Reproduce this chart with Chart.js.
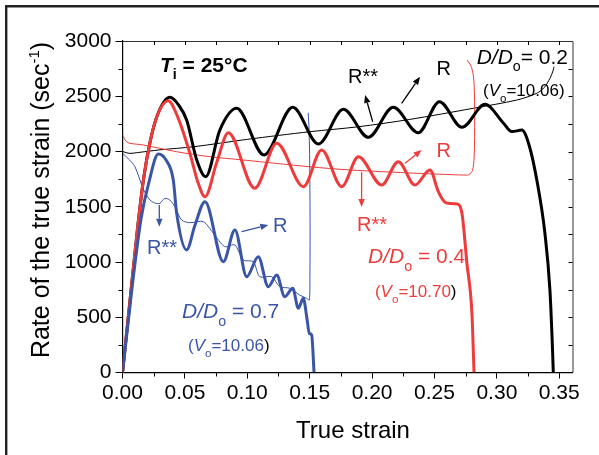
<!DOCTYPE html>
<html>
<head>
<meta charset="utf-8">
<script src="https://cdn.jsdelivr.net/npm/chart.js@4.4.1/dist/chart.umd.min.js"></script>
<style>
html,body{margin:0;padding:0;background:#fff;}
canvas{display:block;}
</style>
</head>
<body>
<canvas id="c" width="599" height="455"></canvas>
<script>
// ---------- DATA ----------
const xTickValues = [0, 0.05, 0.10, 0.15, 0.20, 0.25, 0.30, 0.35];
const yTickValues = [0, 500, 1000, 1500, 2000, 2500, 3000];

// D/Do = 0.2 (black), R : thick
const strainBlackR = [0, 0.006, 0.012, 0.017, 0.022, 0.028, 0.038, 0.045, 0.0514, 0.0595, 0.0667, 0.078, 0.0915, 0.1134, 0.1364, 0.157, 0.177, 0.197, 0.217, 0.237, 0.254, 0.272, 0.2905, 0.305, 0.312, 0.320, 0.326, 0.332, 0.3385, 0.3425, 0.3447, 0.3452];
const rateBlackR   = [0, 650, 1300, 1760, 2080, 2330, 2490, 2420, 2285, 1923, 1772, 2194, 2391, 1968, 2400, 2068, 2382, 2128, 2400, 2170, 2451, 2219, 2427, 2260, 2180, 2194, 2050, 1742, 1260, 747, 174, 0];
// D/Do = 0.2 (black), R** : thin
const strainBlackRss = [0, 0.003, 0.006, 0.012, 0.030, 0.057, 0.100, 0.150, 0.189, 0.230, 0.281, 0.316, 0.332, 0.338, 0.3425, 0.345, 0.3458];
const rateBlackRss   = [2000, 1990, 1983, 1990, 2015, 2043, 2110, 2179, 2224, 2290, 2391, 2466, 2527, 2580, 2662, 2730, 2767];

// D/Do = 0.4 (red), R : thick
const strainRedR = [0, 0.006, 0.012, 0.017, 0.022, 0.028, 0.0367, 0.044, 0.054, 0.0607, 0.0661, 0.0755, 0.0848, 0.106, 0.1236, 0.145, 0.1596, 0.1757, 0.189, 0.2077, 0.221, 0.2344, 0.2464, 0.253, 0.258, 0.261, 0.268, 0.272, 0.276, 0.280, 0.2817];
const rateRedR   = [0, 650, 1300, 1760, 2080, 2330, 2460, 2320, 1984, 1712, 1591, 1900, 2170, 1667, 2074, 1682, 2014, 1682, 1953, 1697, 1908, 1697, 1833, 1640, 1545, 1531, 1525, 1441, 988, 536, 0];
// D/Do = 0.4 (red), R** : thin
const strainRedRss = [0, 0.003, 0.006, 0.0167, 0.0434, 0.070, 0.097, 0.150, 0.182, 0.236, 0.265, 0.2735, 0.2775, 0.2805, 0.2818, 0.2822, 0.2818, 0.2805, 0.2785, 0.276];
const rateRedRss   = [2150, 2090, 2074, 2059, 1998, 1953, 1923, 1862, 1833, 1803, 1790, 1787, 1790, 1830, 1950, 2300, 2600, 2730, 2790, 2828];

// D/Do = 0.7 (blue), R : thick
const strainBlueR = [0, 0.008, 0.015, 0.0207, 0.0287, 0.035, 0.0407, 0.0434, 0.0514, 0.058, 0.0661, 0.0808, 0.0901, 0.0995, 0.1088, 0.1168, 0.1236, 0.130, 0.1364, 0.1409, 0.1449, 0.1476, 0.1497, 0.1516, 0.1535];
const rateBlueR   = [0, 800, 1400, 1700, 1977, 1920, 1742, 1441, 1109, 1330, 1546, 1003, 1290, 867, 1048, 777, 882, 686, 762, 581, 672, 505, 355, 339, 0];
// D/Do = 0.7 (blue), R** : thin
const strainBlueRss = [0, 0.005, 0.010, 0.0167, 0.022, 0.027, 0.030, 0.034, 0.038, 0.042, 0.0474, 0.054, 0.0647, 0.0728, 0.082, 0.090, 0.0968, 0.1048, 0.110, 0.1196, 0.126, 0.134, 0.142, 0.1476, 0.1497, 0.1502, 0.1503, 0.1500, 0.1495, 0.1488];
const rateBlueRss   = [1985, 1930, 1862, 1660, 1561, 1530, 1531, 1576, 1560, 1500, 1380, 1356, 1365, 1260, 1139, 1154, 1018, 1003, 867, 867, 777, 762, 701, 671, 656, 900, 1400, 1900, 2200, 2350];

// ---------- STYLE ----------
const FONT = "'Liberation Sans', Arial, Helvetica, sans-serif";
const BLACK = '#000000';
const RED = '#ee3b3b';
const BLUE = '#3a55a5';

function pts(xs, ys) { return xs.map((x, i) => ({ x: x, y: ys[i] })); }

function thick(xs, ys, color) {
  return { data: pts(xs, ys), borderColor: color, borderWidth: 3, pointRadius: 0, fill: false, cubicInterpolationMode: 'monotone', order: 1 };
}
function thin(xs, ys, color) {
  return { data: pts(xs, ys), borderColor: color, borderWidth: 1, pointRadius: 0, fill: false, tension: 0.3, order: 2 };
}

// annotations (data coordinates)
const labels = [
  { x: 0.0300, y: 2722, size: 21, parts: [{ t: 'T', i: 1, b: 1, c: BLACK }, { t: 'i', sub: 1, b: 1, c: BLACK }, { t: ' = 25°C', b: 1, c: BLACK }] },
  { x: 0.1807, y: 2623, size: 20, parts: [{ t: 'R**', c: BLACK }] },
  { x: 0.2516, y: 2692, size: 20, parts: [{ t: 'R', c: BLACK }] },
  { x: 0.2838, y: 2796, size: 21, parts: [{ t: 'D/D', i: 1, c: BLACK }, { t: 'o', sub: 1, c: BLACK }, { t: '= 0.2', c: BLACK }] },
  { x: 0.2889, y: 2502, size: 17, parts: [{ t: '(', c: BLACK }, { t: 'V', i: 1, c: BLACK }, { t: 'o', sub: 1, c: BLACK }, { t: '=10.06)', c: BLACK }] },
  { x: 0.2516, y: 1950, size: 20, parts: [{ t: 'R', c: RED }] },
  { x: 0.1879, y: 1280, size: 20, parts: [{ t: 'R**', c: RED }] },
  { x: 0.1967, y: 990, size: 21, parts: [{ t: 'D/D', i: 1, c: RED }, { t: 'o', sub: 1, c: RED }, { t: ' = 0.4', c: RED }] },
  { x: 0.2023, y: 683, size: 17, parts: [{ t: '(', c: RED }, { t: 'V', i: 1, c: RED }, { t: 'o', sub: 1, c: RED }, { t: '=10.70', c: RED }, { t: ')', c: BLACK }] },
  { x: 0.1206, y: 1271, size: 20, parts: [{ t: 'R', c: BLUE }] },
  { x: 0.0196, y: 1072, size: 20, parts: [{ t: 'R**', c: BLUE }] },
  { x: 0.0477, y: 493, size: 21, parts: [{ t: 'D/D', i: 1, c: BLUE }, { t: 'o', sub: 1, c: BLUE }, { t: ' = 0.7', c: BLUE }] },
  { x: 0.0525, y: 195, size: 17, parts: [{ t: '(', c: BLUE }, { t: 'V', i: 1, c: BLUE }, { t: 'o', sub: 1, c: BLUE }, { t: '=10.06', c: BLUE }, { t: ')', c: BLACK }] }
];
const arrows = [
  { x1: 0.2005, y1: 2269, x2: 0.1944, y2: 2511, c: BLACK },
  { x1: 0.2237, y1: 2436, x2: 0.2384, y2: 2677, c: BLACK },
  { x1: 0.2264, y1: 1893, x2: 0.2397, y2: 2014, c: RED },
  { x1: 0.1916, y1: 1814, x2: 0.1916, y2: 1498, c: RED },
  { x1: 0.0955, y1: 1274, x2: 0.1169, y2: 1335, c: BLUE },
  { x1: 0.0295, y1: 1516, x2: 0.0295, y2: 1320, c: BLUE }
];

function drawRich(ctx, x, y, parts, size) {
  let cx = x;
  ctx.textAlign = 'left';
  ctx.textBaseline = 'alphabetic';
  for (const p of parts) {
    const small = p.sub || p.sup;
    const s = small ? size * 0.68 : size;
    ctx.font = (p.i ? 'italic ' : '') + (p.b ? 'bold ' : '') + s + 'px ' + FONT;
    ctx.fillStyle = p.c;
    const dy = p.sub ? size * 0.36 : (p.sup ? -size * 0.42 : 0);
    ctx.fillText(p.t, cx, y + dy);
    cx += ctx.measureText(p.t).width;
  }
}

function drawArrow(ctx, x1, y1, x2, y2, color) {
  const ang = Math.atan2(y2 - y1, x2 - x1);
  const len = 8, wid = 3.2;
  const bx = x2 - len * Math.cos(ang), by = y2 - len * Math.sin(ang);
  ctx.strokeStyle = color; ctx.fillStyle = color; ctx.lineWidth = 1.3;
  ctx.beginPath(); ctx.moveTo(x1, y1); ctx.lineTo(bx, by); ctx.stroke();
  ctx.beginPath();
  ctx.moveTo(x2, y2);
  ctx.lineTo(bx + wid * Math.sin(ang), by - wid * Math.cos(ang));
  ctx.lineTo(bx - wid * Math.sin(ang), by + wid * Math.cos(ang));
  ctx.closePath(); ctx.fill();
}

const decor = {
  id: 'decor',
  beforeDraw(chart) {
    const ctx = chart.ctx;
    ctx.save();
    ctx.fillStyle = '#fff';
    ctx.fillRect(0, 0, chart.width, chart.height);
    ctx.strokeStyle = '#222';
    ctx.lineWidth = 2.4;
    ctx.beginPath();
    ctx.moveTo(6.2, chart.height);
    ctx.lineTo(6.2, 6.2);
    ctx.lineTo(chart.width, 6.2);
    ctx.stroke();
    ctx.restore();
  },
  afterDraw(chart) {
    const ctx = chart.ctx;
    const xs = chart.scales.x, ys = chart.scales.y;
    const a = chart.chartArea;
    ctx.save();
    // top & right frame
    ctx.strokeStyle = '#333';
    ctx.lineWidth = 1;
    ctx.beginPath();
    ctx.moveTo(a.left, a.top + 0.5); ctx.lineTo(a.right + 0.5, a.top + 0.5); ctx.lineTo(a.right + 0.5, a.bottom);
    ctx.stroke();
    // minor / mirrored ticks
    ctx.strokeStyle = '#000';
    ctx.beginPath();
    for (let k = 1; k <= 14; k++) {
      const v = k * 0.025;
      const px = Math.round(xs.getPixelForValue(v)) + 0.5;
      if (k % 2 === 1) { ctx.moveTo(px, a.bottom); ctx.lineTo(px, a.bottom + 4); }
      ctx.moveTo(px, a.top); ctx.lineTo(px, a.top + 4);
    }
    for (let k = 1; k <= 11; k++) {
      const v = k * 250;
      const py = Math.round(ys.getPixelForValue(v)) + 0.5;
      if (k % 2 === 1) { ctx.moveTo(a.left, py); ctx.lineTo(a.left - 4, py); }
      ctx.moveTo(a.right, py); ctx.lineTo(a.right - 4, py);
    }
    ctx.stroke();
    // axis titles
    ctx.fillStyle = '#000';
    ctx.font = '24px ' + FONT;
    ctx.textAlign = 'center';
    ctx.textBaseline = 'alphabetic';
    ctx.fillText('True strain', 353, 438);
    ctx.save();
    ctx.translate(49, 200);
    ctx.rotate(-Math.PI / 2);
    const main = 'Rate of the true strain (sec';
    const sup = '-1';
    const close = ')';
    ctx.font = '25px ' + FONT;
    const w1 = ctx.measureText(main).width;
    const w3 = ctx.measureText(close).width;
    ctx.font = '15px ' + FONT;
    const w2 = ctx.measureText(sup).width;
    const total = w1 + w2 + w3;
    let cx = -total / 2;
    ctx.textAlign = 'left';
    ctx.font = '25px ' + FONT;
    ctx.fillText(main, cx, 0); cx += w1;
    ctx.font = '15px ' + FONT;
    ctx.fillText(sup, cx, -10); cx += w2;
    ctx.font = '25px ' + FONT;
    ctx.fillText(close, cx, 0);
    ctx.restore();
    // annotations
    for (const l of labels) {
      drawRich(ctx, xs.getPixelForValue(l.x), ys.getPixelForValue(l.y), l.parts, l.size);
    }
    for (const r of arrows) {
      drawArrow(ctx, xs.getPixelForValue(r.x1), ys.getPixelForValue(r.y1), xs.getPixelForValue(r.x2), ys.getPixelForValue(r.y2), r.c);
    }
    ctx.restore();
  }
};

new Chart(document.getElementById('c').getContext('2d'), {
  type: 'line',
  data: {
    datasets: [
      thin(strainBlueRss, rateBlueRss, BLUE),
      thin(strainRedRss, rateRedRss, RED),
      thin(strainBlackRss, rateBlackRss, BLACK),
      thick(strainBlueR, rateBlueR, BLUE),
      thick(strainRedR, rateRedR, RED),
      thick(strainBlackR, rateBlackR, BLACK)
    ]
  },
  options: {
    responsive: false,
    animation: false,
    devicePixelRatio: 1,
    layout: { padding: { left: 0, top: 41, right: 26.5, bottom: 0 } },
    plugins: { legend: { display: false }, tooltip: { enabled: false }, title: { display: false } },
    scales: {
      x: {
        type: 'linear', min: 0, max: 0.3606,
        afterBuildTicks: s => { s.ticks = xTickValues.map(v => ({ value: v })); },
        afterFit: s => { s.height = 82.5; },
        ticks: { callback: v => Number(v).toFixed(2), font: { size: 21, family: FONT }, color: '#000', padding: 2, maxRotation: 0, autoSkip: false },
        grid: { display: true, drawOnChartArea: false, drawTicks: true, tickLength: 6, color: '#000', lineWidth: 1 },
        border: { display: true, color: '#000', width: 1.2 }
      },
      y: {
        type: 'linear', min: 0, max: 3000,
        afterBuildTicks: s => { s.ticks = yTickValues.map(v => ({ value: v })); },
        afterFit: s => { s.width = 122.5; },
        ticks: { callback: v => String(v), font: { size: 21, family: FONT }, color: '#000', padding: 4, autoSkip: false },
        grid: { display: true, drawOnChartArea: false, drawTicks: true, tickLength: 7, color: '#000', lineWidth: 1 },
        border: { display: true, color: '#000', width: 1.2 }
      }
    }
  },
  plugins: [decor]
});
</script>
</body>
</html>
